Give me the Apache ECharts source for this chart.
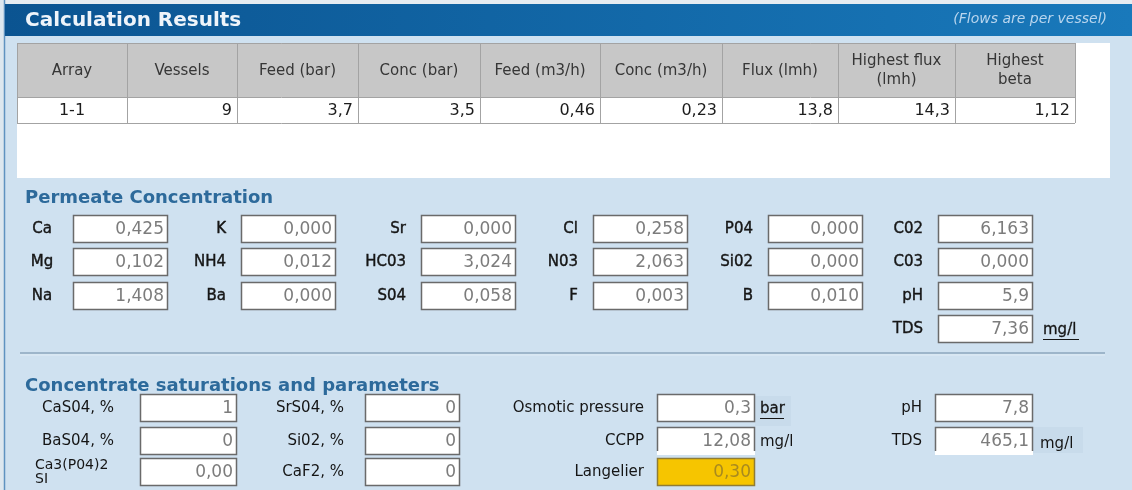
<!DOCTYPE html>
<html lang="en">
<head>
<meta charset="UTF-8">
<script src="https://cdn.jsdelivr.net/npm/echarts@6/dist/echarts.min.js"></script>
<title>Calculation Results</title>
</head>
<body style="margin: 0">
<div id="container" style="width: 1132px; height: 490px"></div>
<script>
    // ---- data ----
    var tableHeaders = ['Array', 'Vessels', 'Feed (bar)', 'Conc (bar)', 'Feed (m3/h)', 'Conc (m3/h)', 'Flux (lmh)', 'Highest flux\n(lmh)', 'Highest\nbeta'];
    var tableRow = ['1-1', '9', '3,7', '3,5', '0,46', '0,23', '13,8', '14,3', '1,12'];

    // permeate concentration, one list per column of inputs
    var permeateLabels = [
        ['Ca', 'Mg', 'Na'],
        ['K', 'NH4', 'Ba'],
        ['Sr', 'HC03', 'S04'],
        ['Cl', 'N03', 'F'],
        ['P04', 'Si02', 'B'],
        ['C02', 'C03', 'pH', 'TDS']
    ];
    var permeateValues = [
        ['0,425', '0,102', '1,408'],
        ['0,000', '0,012', '0,000'],
        ['0,000', '3,024', '0,058'],
        ['0,258', '2,063', '0,003'],
        ['0,000', '0,000', '0,010'],
        ['6,163', '0,000', '5,9', '7,36']
    ];

    // concentrate saturations and parameters
    var concLabels = [
        ['CaS04, %', 'BaS04, %', 'Ca3(P04)2\nSI'],
        ['SrS04, %', 'Si02, %', 'CaF2, %'],
        ['Osmotic pressure', 'CCPP', 'Langelier'],
        ['pH', 'TDS']
    ];
    var concValues = [
        ['1', '0', '0,00'],
        ['0', '0', '0'],
        ['0,3', '12,08', '0,30'],
        ['7,8', '465,1']
    ];

    // ---- layout ----
    var FONT = '"DejaVu Sans"';
    var colEdges = [17, 127, 237, 358, 480, 600, 722, 838, 955, 1075];
    var permBoxX = [73, 241, 421, 593, 768, 938];
    var permRowY = [215, 248, 282, 315];
    var concBoxX = [140, 365, 657, 935];
    var concBoxW = [97, 95, 98, 98];
    var concLabelGap = [0, 21, 13, 13];
    var concRowY = [394, 427, 458];

    var els = [];

    function rect(x, y, w, h, style) {
        els.push({type: 'rect', silent: true, shape: {x: x, y: y, width: w, height: h}, style: style});
    }
    function line(pts, stroke, lw) {
        els.push({type: 'polyline', silent: true, shape: {points: pts}, style: {stroke: stroke, lineWidth: lw || 1, fill: null}});
    }
    function txt(x, y, s, o) {
        o = o || {};
        var st = {
            text: s,
            fill: o.fill || '#1e1e1e',
            font: (o.style || 'normal') + ' ' + (o.weight || 'normal') + ' ' + (o.size || 15) + 'px ' + FONT,
            textAlign: o.align || 'left',
            textVerticalAlign: 'middle',
            lineHeight: o.lh || Math.round((o.size || 15) * 1.2)
        };
        if (o.thick) {
            st.stroke = st.fill;
            st.lineWidth = o.thick;
        }
        els.push({type: 'text', silent: true, x: x, y: y, style: st});
    }
    function inputBox(x, y, w, h, value, o) {
        o = o || {};
        rect(x, y, w, h, {fill: o.fill || '#ffffff', stroke: null});
        var s = o.stroke || '#6a6a6a';
        if (o.noBottom) {
            line([[x + 0.5, y + h - 4], [x + 0.5, y + 0.5], [x + w - 0.5, y + 0.5], [x + w - 0.5, y + h - 4]], s, 1.5);
        } else {
            els.push({type: 'rect', silent: true, shape: {x: x + 0.5, y: y + 0.5, width: w - 1, height: h - 1}, style: {fill: null, stroke: s, lineWidth: 1.5}});
        }
        txt(x + w - 4, y + h / 2 + 1, value, {align: 'right', fill: o.textFill || '#7c7c7c', size: 17});
    }

    // page frame
    rect(0, 0, 1132, 4, {fill: '#e6ecf1'});
    rect(0, 0, 4, 490, {fill: '#dde7ef'});
    line([[4.5, 0], [4.5, 490]], '#5f92c0', 1.5);
    rect(5, 4, 1127, 32, {
        fill: new echarts.graphic.LinearGradient(0, 0, 1, 0, [
            {offset: 0, color: '#0b5491'},
            {offset: 1, color: '#1979bb'}
        ])
    });
    txt(25, 21, 'Calculation Results', {weight: 'bold', size: 20, fill: '#eef4fa'});
    txt(1107, 19, '(Flows are per vessel)', {style: 'italic', size: 14, fill: '#b8d5ee', align: 'right'});

    // results table
    rect(17, 43, 1093, 135, {fill: '#ffffff'});
    rect(17, 43, colEdges[colEdges.length - 1] - 17, 54, {fill: '#c7c7c7'});
    for (var i = 0; i < tableHeaders.length; i++) {
        var cx = (colEdges[i] + colEdges[i + 1]) / 2;
        txt(cx, 71, tableHeaders[i], {align: 'center', fill: '#363636', size: 15, lh: 19});
        if (i === 0) {
            txt(cx, 111, tableRow[i], {align: 'center', size: 16, fill: '#1c1c1c'});
        } else {
            txt(colEdges[i + 1] - 5, 111, tableRow[i], {align: 'right', size: 16, fill: '#1c1c1c'});
        }
    }
    for (var i = 0; i < colEdges.length; i++) {
        line([[colEdges[i] + 0.5, 43], [colEdges[i] + 0.5, 123]], '#a3a3a3', 1);
    }
    line([[17, 43.5], [colEdges[colEdges.length - 1], 43.5]], '#a3a3a3', 1);
    line([[17, 97.5], [colEdges[colEdges.length - 1], 97.5]], '#a3a3a3', 1);
    line([[17, 123.5], [colEdges[colEdges.length - 1], 123.5]], '#a3a3a3', 1);

    // permeate concentration
    txt(25, 198, 'Permeate Concentration', {weight: 'bold', size: 18, fill: '#2d6a9b'});
    for (var c = 0; c < permeateLabels.length; c++) {
        for (var r = 0; r < permeateLabels[c].length; r++) {
            var y = permRowY[r];
            if (c === 0) {
                txt(42, y + 14, permeateLabels[c][r], {align: 'center', size: 15, fill: '#151515', thick: 0.4});
            } else {
                txt(permBoxX[c] - 15, y + 14, permeateLabels[c][r], {align: 'right', size: 15, fill: '#151515', thick: 0.4});
            }
            inputBox(permBoxX[c], y, 95, 28, permeateValues[c][r]);
        }
    }
    // mg/l link after permeate TDS
    txt(1043, permRowY[3] + 15, 'mg/l', {size: 15, fill: '#151515', thick: 0.3});
    line([[1043, permRowY[3] + 24.5], [1079, permRowY[3] + 24.5]], '#151515', 1);

    // separator
    line([[20, 353], [1105, 353]], '#9db5ca', 2);
    line([[20, 355], [1105, 355]], '#e1ecf5', 1);

    // concentrate saturations and parameters
    txt(25, 386, 'Concentrate saturations and parameters', {weight: 'bold', size: 18, fill: '#2d6a9b'});
    rect(755, 396, 36, 30, {fill: '#c8dbeb'});
    rect(1033, 427, 50, 26, {fill: '#c8dbeb'});
    for (var c = 0; c < concLabels.length; c++) {
        for (var r = 0; r < concLabels[c].length; r++) {
            var y = concRowY[r];
            var lab = concLabels[c][r];
            if (c === 0 && r === 2) {
                txt(35, y + 14, lab, {size: 14, lh: 14, fill: '#151515'});
            } else if (c === 0) {
                txt(78, y + 14, lab, {align: 'center', size: 15, fill: '#151515'});
            } else {
                txt(concBoxX[c] - concLabelGap[c], y + 14, lab, {align: 'right', size: 15, fill: '#151515'});
            }
            var opts = {};
            if (c === 2 && r === 2) {
                opts = {fill: '#f6c500', stroke: '#8e7c36', textFill: '#a98a1e'};
            }
            if ((c === 2 || c === 3) && r === 1) {
                opts.noBottom = true;
            }
            inputBox(concBoxX[c], y, concBoxW[c], 28, concValues[c][r], opts);
        }
    }
    // units
    txt(760, concRowY[0] + 15, 'bar', {size: 15, fill: '#151515', thick: 0.3});
    line([[760, concRowY[0] + 24.5], [784, concRowY[0] + 24.5]], '#151515', 1);
    txt(760, concRowY[1] + 15, 'mg/l', {size: 15, fill: '#151515'});
    txt(1040, concRowY[1] + 17, 'mg/l', {size: 15, fill: '#151515'});

    var myChart = echarts.init(document.getElementById('container'));
    var option = {
        animation: false,
        backgroundColor: '#cfe1f0',
        graphic: {elements: els}
    };
    myChart.setOption(option);
</script>
</body>
</html>
